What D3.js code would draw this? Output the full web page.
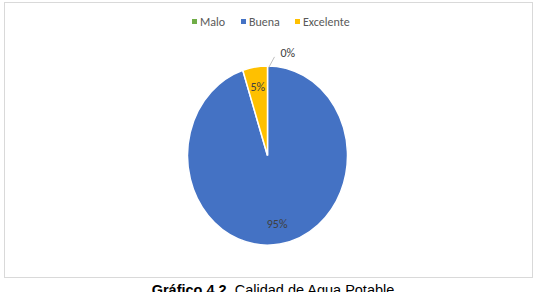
<!DOCTYPE html>
<html>
<head>
<meta charset="utf-8">
<script src="https://cdn.jsdelivr.net/npm/d3@7"></script>
<style>
  body { margin: 0; background: #fff; }
  svg { display: block; }
</style>
</head>
<body>
<script>
// datos del grafico
var categorias = ["Malo", "Buena", "Excelente"]
var valores = [0, 95, 5]
var etiquetas = ["0%", "95%", "5%"]
var colores = ["#70ad47", "#4472c4", "#ffc000"]

var svg = d3.select("body").append("svg")
    .attr("width", 536)
    .attr("height", 292)

// marco del grafico
svg.append("rect")
    .attr("x", 4.5).attr("y", 2.5)
    .attr("width", 528).attr("height", 275)
    .attr("fill", "#fff")
    .attr("stroke", "#d9d9d9")

var color = d3.scaleOrdinal().domain(categorias).range(colores)
var fuente = "Carlito, Lato, 'Open Sans', sans-serif"

// leyenda
var leyenda = svg.append("g")
var posX = [192, 241, 295]
categorias.forEach(function (c, i) {
    leyenda.append("rect")
        .attr("x", posX[i]).attr("y", 19)
        .attr("width", 5).attr("height", 5)
        .attr("fill", color(c))
    leyenda.append("text")
        .attr("x", posX[i] + 8).attr("y", 26)
        .attr("font-family", fuente)
        .attr("font-size", 12)
        .attr("fill", "#595959")
        .text(c)
})

// torta (un poco estirada en vertical como la imagen original)
var cx = 267.5, cy = 155.5, r = 80, sy = 1.12
var pie = d3.pie().sort(null).value(function (d) { return d })
var arcos = pie(valores)
var arc = d3.arc().innerRadius(0).outerRadius(r)

var g = svg.append("g").attr("transform", "translate(" + cx + "," + cy + ")")

g.append("g")
    .attr("transform", "scale(1," + sy + ")")
    .selectAll("path")
    .data(arcos)
    .enter()
    .append("path")
    .attr("d", arc)
    .attr("fill", function (d, i) { return color(categorias[i]) })
    .attr("stroke", "#fff")
    .attr("stroke-width", 1.5)
    .attr("vector-effect", "non-scaling-stroke")

// etiquetas dentro de los sectores
var arcEtq = d3.arc().innerRadius(r * 0.77).outerRadius(r * 0.77)
g.selectAll("text.etq")
    .data(arcos.filter(function (d) { return d.value > 0 }))
    .enter()
    .append("text")
    .attr("class", "etq")
    .attr("transform", function (d) {
        var p = arcEtq.centroid(d)
        return "translate(" + p[0] + "," + (p[1] * sy + 4) + ")"
    })
    .attr("text-anchor", "middle")
    .attr("font-family", fuente)
    .attr("font-size", 12)
    .attr("fill", "#404040")
    .text(function (d) { return etiquetas[d.index] })

// etiqueta del 0% con linea guia
var cero = arcos[0]
var pBorde = d3.arc().innerRadius(r).outerRadius(r).centroid(cero)
var by = pBorde[1] * sy
g.append("line")
    .attr("x1", pBorde[0] + 1).attr("y1", by + 2)
    .attr("x2", pBorde[0] + 7).attr("y2", by - 9)
    .attr("stroke", "#bfbfbf")
g.append("text")
    .attr("x", pBorde[0] + 13).attr("y", by - 9)
    .attr("font-family", fuente)
    .attr("font-size", 12)
    .attr("fill", "#404040")
    .text(etiquetas[0])

// titulo abajo
var titulo = svg.append("text")
    .attr("x", 273).attr("y", 295)
    .attr("text-anchor", "middle")
    .attr("font-family", "Arial, 'Liberation Sans', sans-serif")
    .attr("font-size", 14.5)
    .attr("fill", "#000")
titulo.append("tspan").attr("font-weight", "bold").text("Gráfico 4.2.")
titulo.append("tspan").text(" Calidad de Agua Potable")
</script>
</body>
</html>
